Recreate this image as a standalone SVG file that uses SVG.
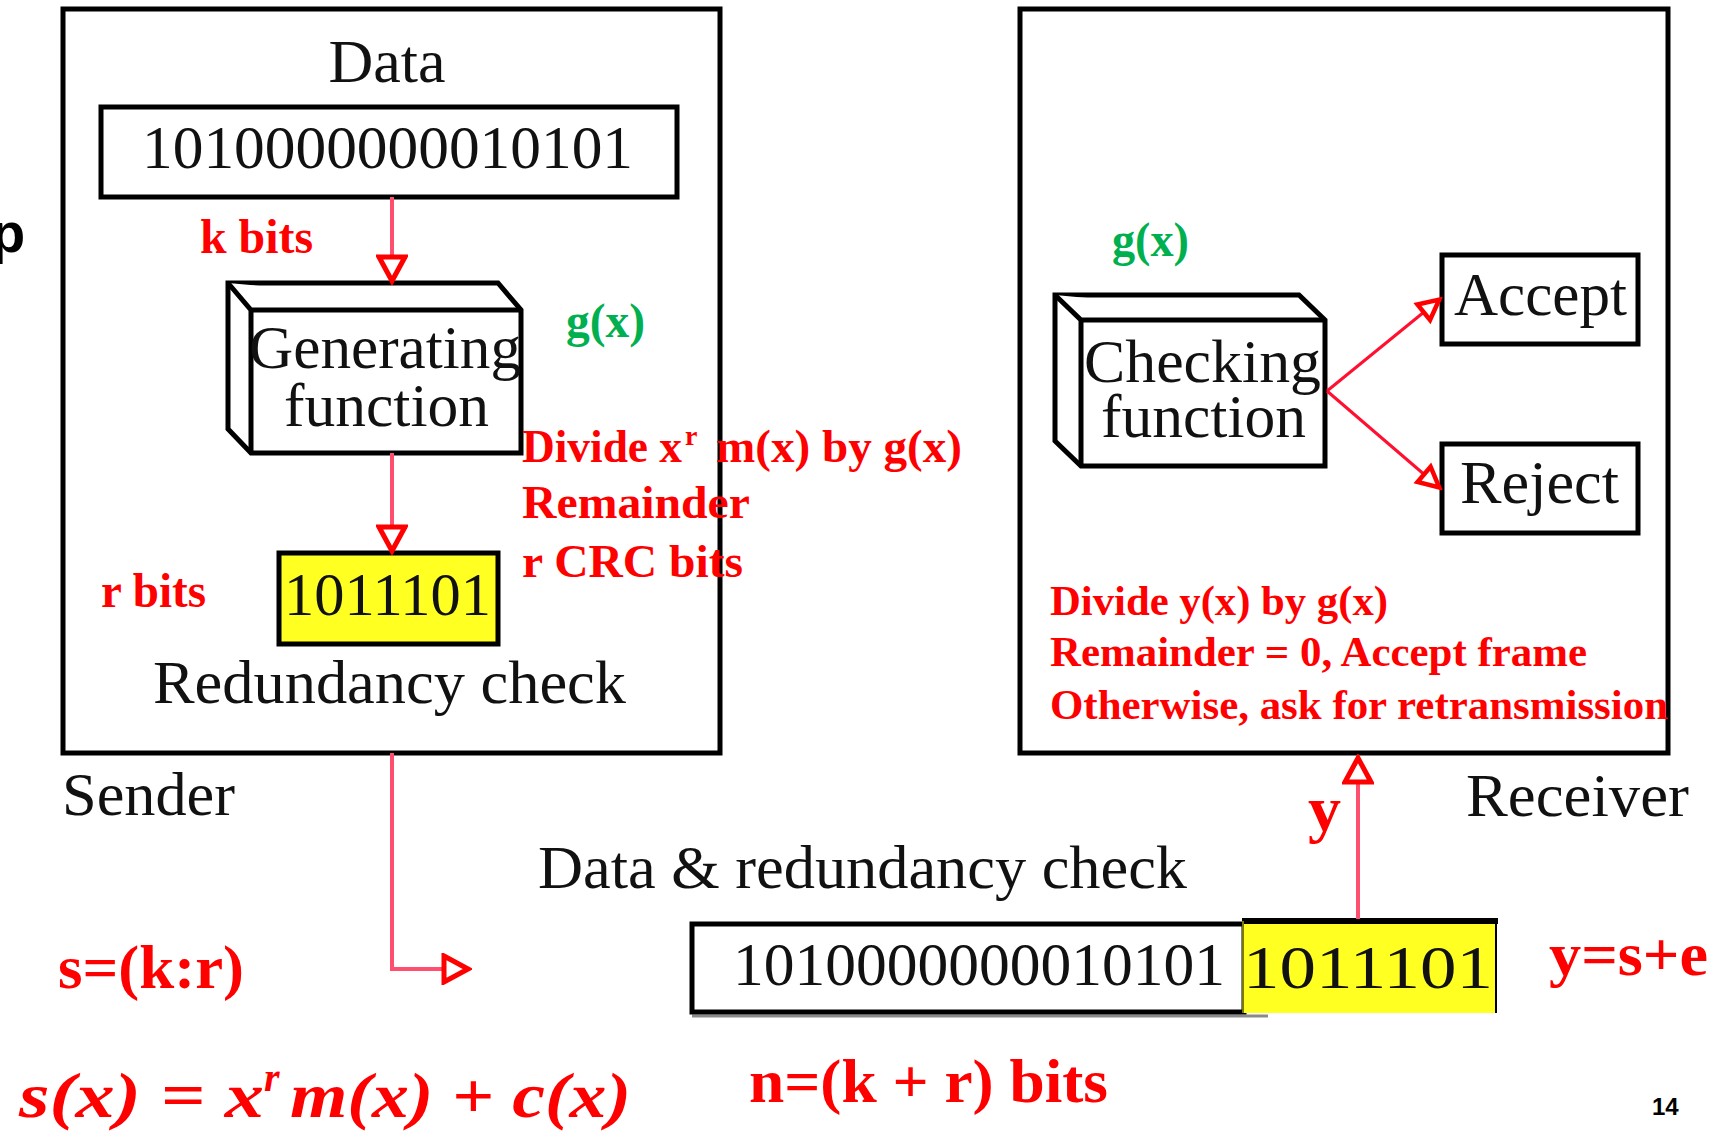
<svg xmlns="http://www.w3.org/2000/svg" width="1716" height="1133" viewBox="0 0 1716 1133">
  <style>
    .frame { fill: #ffffff; stroke: #000000; stroke-width: 5; }
    .box { fill: #ffffff; stroke: #000000; stroke-width: 5; stroke-linejoin: miter; }
    .crc { fill: #ffff22; stroke: #000000; stroke-width: 5; }
    .blk { font-family: "Liberation Serif", "Times New Roman", serif; font-size: 62px; fill: #111111; }
    .red { font-family: "Liberation Serif", "Times New Roman", serif; font-weight: bold; fill: #ff0000; }
    .grn { font-family: "Liberation Serif", "Times New Roman", serif; font-weight: bold; fill: #00b050; font-size: 48px; }
    .wire { fill: none; stroke: #ff4f6e; stroke-width: 4; }
    .wire2 { fill: none; stroke: #ff1030; stroke-width: 3; }
  </style>
  <defs>
    <marker id="head" markerUnits="userSpaceOnUse" markerWidth="32" markerHeight="32" viewBox="0 0 32 32" refX="29" refY="16" orient="auto">
      <path d="M4,3 L28,16 L4,29 Z" fill="#ffffff" stroke="#ff0000" stroke-width="5" stroke-linejoin="miter"/>
    </marker>
    <marker id="headS" markerUnits="userSpaceOnUse" markerWidth="28" markerHeight="28" viewBox="0 0 28 28" refX="25" refY="14" orient="auto">
      <path d="M4,4 L24,14 L4,24 Z" fill="#ffffff" stroke="#ff0000" stroke-width="4.5" stroke-linejoin="miter"/>
    </marker>
  </defs>

  <rect width="1716" height="1133" fill="#ffffff"/>

  <!-- stray slide glyph at the left margin -->
  <text x="-9" y="252" font-family="Liberation Sans, Arial, sans-serif" font-weight="bold" font-size="56" fill="#000000">p</text>

  <!-- Sender frame -->
  <g id="sender">
    <rect class="frame" x="63" y="9" width="657" height="744"/>
    <text class="blk" x="387" y="82" text-anchor="middle" textLength="117" lengthAdjust="spacingAndGlyphs">Data</text>
    <text class="blk" x="62" y="815" textLength="173" lengthAdjust="spacingAndGlyphs">Sender</text>
  </g>

  <g id="data-word">
    <rect class="box" x="101" y="107" width="576" height="90"/>
    <text class="blk" x="142" y="168" textLength="491" lengthAdjust="spacingAndGlyphs">1010000000010101</text>
  </g>

  <g id="generating-function">
    <path class="box" d="M228,283 L498,283 L521,310 L521,453 L251,453 L228,429 Z"/>
    <path class="box" d="M228,283 L251,310 L521,310 M251,310 L251,453" fill="none"/>
    <text class="blk" x="249" y="368" textLength="272" lengthAdjust="spacingAndGlyphs">Generating</text>
    <text class="blk" x="284" y="426" textLength="205" lengthAdjust="spacingAndGlyphs">function</text>
  </g>

  <g id="crc-bits">
    <rect class="crc" x="279" y="553" width="219" height="91"/>
    <text class="blk" x="284" y="615" textLength="207" lengthAdjust="spacingAndGlyphs">1011101</text>
    <text class="blk" x="153" y="703" textLength="473" lengthAdjust="spacingAndGlyphs">Redundancy check</text>
  </g>

  <!-- Sender annotations -->
  <g id="sender-notes">
    <text class="red" x="200" y="253" font-size="48" textLength="113" lengthAdjust="spacingAndGlyphs">k bits</text>
    <text class="grn" x="566" y="337" textLength="79" lengthAdjust="spacingAndGlyphs">g(x)</text>
    <text class="red" x="522" y="462" font-size="46">
      <tspan textLength="160" lengthAdjust="spacingAndGlyphs">Divide x</tspan><tspan x="685" dy="-17" font-size="28">r</tspan><tspan dy="17" x="716" textLength="246" lengthAdjust="spacingAndGlyphs">m(x) by g(x)</tspan>
    </text>
    <text class="red" x="522" y="518" font-size="46" textLength="228" lengthAdjust="spacingAndGlyphs">Remainder</text>
    <text class="red" x="522" y="577" font-size="46" textLength="221" lengthAdjust="spacingAndGlyphs">r CRC bits</text>
    <text class="red" x="101" y="607" font-size="48" textLength="105" lengthAdjust="spacingAndGlyphs">r bits</text>
  </g>

  <!-- Receiver frame -->
  <g id="receiver">
    <rect class="frame" x="1020" y="9" width="648" height="744"/>
    <text class="blk" x="1466" y="816" textLength="223" lengthAdjust="spacingAndGlyphs">Receiver</text>
  </g>

  <g id="checking-function">
    <path class="box" d="M1055,295 L1299,295 L1325,320 L1325,466 L1081,466 L1055,441 Z"/>
    <path class="box" d="M1055,295 L1081,320 L1325,320 M1081,320 L1081,466" fill="none"/>
    <text class="blk" x="1084" y="382" textLength="237" lengthAdjust="spacingAndGlyphs">Checking</text>
    <text class="blk" x="1101" y="437" textLength="205" lengthAdjust="spacingAndGlyphs">function</text>
  </g>

  <g id="accept">
    <rect class="box" x="1442" y="255" width="196" height="89"/>
    <text class="blk" x="1454" y="315" textLength="173" lengthAdjust="spacingAndGlyphs">Accept</text>
  </g>

  <g id="reject">
    <rect class="box" x="1442" y="444" width="196" height="89"/>
    <text class="blk" x="1460" y="503" textLength="159" lengthAdjust="spacingAndGlyphs">Reject</text>
  </g>

  <g id="receiver-notes">
    <text class="grn" x="1112" y="256" textLength="77" lengthAdjust="spacingAndGlyphs">g(x)</text>
    <text class="red" x="1050" y="615" font-size="42" textLength="338" lengthAdjust="spacingAndGlyphs">Divide y(x) by g(x)</text>
    <text class="red" x="1050" y="666" font-size="42" textLength="537" lengthAdjust="spacingAndGlyphs">Remainder = 0, Accept frame</text>
    <text class="red" x="1050" y="719" font-size="42" textLength="618" lengthAdjust="spacingAndGlyphs">Otherwise, ask for retransmission</text>
    <text class="red" x="1308" y="830" font-size="64" textLength="33" lengthAdjust="spacingAndGlyphs">y</text>
  </g>

  <!-- Transmitted frame: data word followed by CRC -->
  <g id="frame-word">
    <text class="blk" x="538" y="888" textLength="649" lengthAdjust="spacingAndGlyphs">Data &amp; redundancy check</text>
    <line x1="692" y1="1016" x2="1268" y2="1016" stroke="#8a8a8a" stroke-width="3"/>
    <rect class="box" x="692" y="924" width="552" height="88"/>
    <rect x="1242" y="920" width="255" height="93" fill="#ffff22"/>
    <line x1="1242" y1="921" x2="1498" y2="921" stroke="#000000" stroke-width="6"/>
    <line x1="1496" y1="921" x2="1496" y2="1013" stroke="#000000" stroke-width="2"/>
    <line x1="1243" y1="921" x2="1243" y2="1013" stroke="#7a7a00" stroke-width="2"/>
    <text class="blk" x="733" y="985" textLength="492" lengthAdjust="spacingAndGlyphs">1010000000010101</text>
    <text class="blk" x="1243" y="988" font-size="70" textLength="250" lengthAdjust="spacingAndGlyphs">1011101</text>
  </g>

  <!-- Formulas -->
  <g id="formulas">
    <text class="red" x="58" y="988" font-size="62" textLength="186" lengthAdjust="spacingAndGlyphs">s=(k:r)</text>
    <text class="red" x="1549" y="975" font-size="62" textLength="159" lengthAdjust="spacingAndGlyphs">y=s+e</text>
    <text class="red" x="749" y="1102" font-size="62" textLength="359" lengthAdjust="spacingAndGlyphs">n=(k + r) bits</text>
    <text class="red" x="19" y="1117" font-size="64" font-style="italic">
      <tspan textLength="245" lengthAdjust="spacingAndGlyphs">s(x) = x</tspan><tspan dy="-26" font-size="40">r</tspan><tspan dy="26" x="290" textLength="341" lengthAdjust="spacingAndGlyphs">m(x) + c(x)</tspan>
    </text>
  </g>

  <text x="1652" y="1115" font-family="Liberation Sans, Arial, sans-serif" font-weight="bold" font-size="24" fill="#000000">14</text>

  <!-- Connectors -->
  <g id="connectors">
    <path class="wire" d="M392,197 V282" marker-end="url(#head)"/>
    <path class="wire" d="M392,453 V552" marker-end="url(#head)"/>
    <path class="wire" d="M392,753 V969 H469" marker-end="url(#head)"/>
    <path class="wire" d="M1358,919 V757" marker-end="url(#head)"/>
    <path class="wire2" d="M1327,391 L1440,299" marker-end="url(#headS)"/>
    <path class="wire2" d="M1327,391 L1440,488" marker-end="url(#headS)"/>
  </g>
</svg>
